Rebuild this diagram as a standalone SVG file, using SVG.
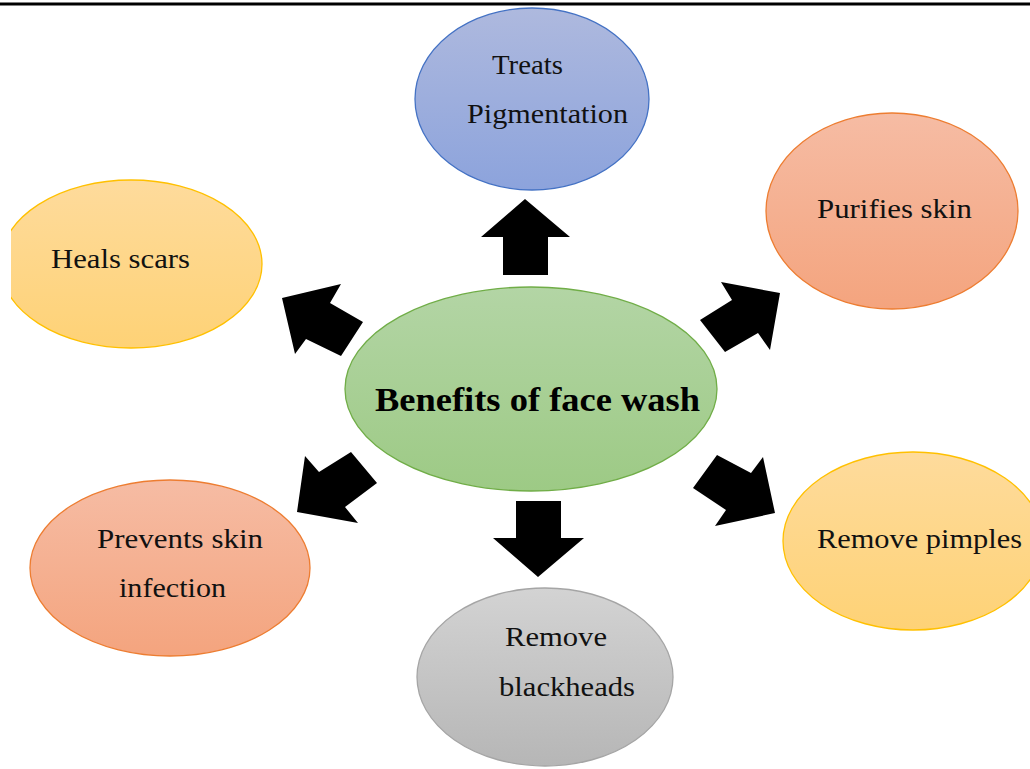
<svg xmlns="http://www.w3.org/2000/svg" width="1030" height="769" viewBox="0 0 1030 769">
<style>
.t{font-family:"Liberation Serif","Times New Roman",serif;font-size:27px;fill:#111;}
.b{font-family:"Liberation Serif","Times New Roman",serif;font-size:33px;font-weight:bold;fill:#000;}
.arrow{fill:#000;}
</style>
<defs>
<linearGradient id="gBlue" x1="0" y1="0" x2="0" y2="1"><stop offset="0" stop-color="#aeb9de"/><stop offset="1" stop-color="#8ca3dc"/></linearGradient>
<linearGradient id="gOrange" x1="0" y1="0" x2="0" y2="1"><stop offset="0" stop-color="#f6bca4"/><stop offset="1" stop-color="#f4a47e"/></linearGradient>
<linearGradient id="gYellow" x1="0" y1="0" x2="0" y2="1"><stop offset="0" stop-color="#fedb9c"/><stop offset="1" stop-color="#fed276"/></linearGradient>
<linearGradient id="gGreen" x1="0" y1="0" x2="0" y2="1"><stop offset="0" stop-color="#b3d5a5"/><stop offset="1" stop-color="#9dca85"/></linearGradient>
<linearGradient id="gGray" x1="0" y1="0" x2="0" y2="1"><stop offset="0" stop-color="#d3d3d3"/><stop offset="1" stop-color="#b6b6b6"/></linearGradient>
<clipPath id="clipLeft"><rect x="11" y="0" width="1019" height="769"/></clipPath>
</defs>
<rect x="0" y="0" width="1030" height="769" fill="#fff"/>
<line x1="0" y1="4" x2="1030" y2="4" stroke="#000" stroke-width="3"/>

<g id="connectors">
<polygon class="arrow" points="525,199 570,237 548,237 548,275 503,275 503,237 481,237"/>
<polygon class="arrow" points="538,577 584,538 561,538 561,501 516,501 516,538 493,538"/>
<polygon class="arrow" points="282,298 341,284 330,303 363,322 341,356 306,339 295,354"/>
<polygon class="arrow" points="780,293 770,350 758,333 725,352 700,320 732,300 721,282"/>
<polygon class="arrow" points="775,513 715,526 726,510 693,488 717,455 751,473 763,457"/>
<polygon class="arrow" points="297,512 305,456 319,472 351,452 377,483 345,507 358,523"/>
</g>

<g id="node-center">
<ellipse cx="531" cy="389" rx="186" ry="102" fill="url(#gGreen)" stroke="#70ad47" stroke-width="1.3"/>
<text class="b" x="375" y="411" textLength="325" lengthAdjust="spacingAndGlyphs">Benefits of face wash</text>
</g>

<g id="node-pigmentation">
<ellipse cx="532" cy="99" rx="117" ry="91" fill="url(#gBlue)" stroke="#4472c4" stroke-width="1.3"/>
<text class="t" x="492" y="74" textLength="71" lengthAdjust="spacingAndGlyphs">Treats</text>
<text class="t" x="467" y="123" textLength="161" lengthAdjust="spacingAndGlyphs">Pigmentation</text>
</g>

<g id="node-purifies">
<ellipse cx="892" cy="211" rx="126" ry="98" fill="url(#gOrange)" stroke="#ed7d31" stroke-width="1.3"/>
<text class="t" x="817" y="218" textLength="155" lengthAdjust="spacingAndGlyphs">Purifies skin</text>
</g>

<g id="node-heals" clip-path="url(#clipLeft)">
<ellipse cx="131" cy="264" rx="131" ry="84" fill="url(#gYellow)" stroke="#ffc000" stroke-width="1.3"/>
<text class="t" x="51" y="268" textLength="139" lengthAdjust="spacingAndGlyphs">Heals scars</text>
</g>

<g id="node-pimples">
<ellipse cx="913" cy="541" rx="130" ry="89" fill="url(#gYellow)" stroke="#ffc000" stroke-width="1.3"/>
<text class="t" x="817" y="548" textLength="205" lengthAdjust="spacingAndGlyphs">Remove pimples</text>
</g>

<g id="node-infection">
<ellipse cx="170" cy="568" rx="140" ry="88" fill="url(#gOrange)" stroke="#ed7d31" stroke-width="1.3"/>
<text class="t" x="97" y="548" textLength="166" lengthAdjust="spacingAndGlyphs">Prevents skin</text>
<text class="t" x="119" y="597" textLength="107" lengthAdjust="spacingAndGlyphs">infection</text>
</g>

<g id="node-blackheads">
<ellipse cx="545" cy="677" rx="128" ry="89" fill="url(#gGray)" stroke="#a5a5a5" stroke-width="1.3"/>
<text class="t" x="505" y="646" textLength="102" lengthAdjust="spacingAndGlyphs">Remove</text>
<text class="t" x="499" y="696" textLength="136" lengthAdjust="spacingAndGlyphs">blackheads</text>
</g>
</svg>
